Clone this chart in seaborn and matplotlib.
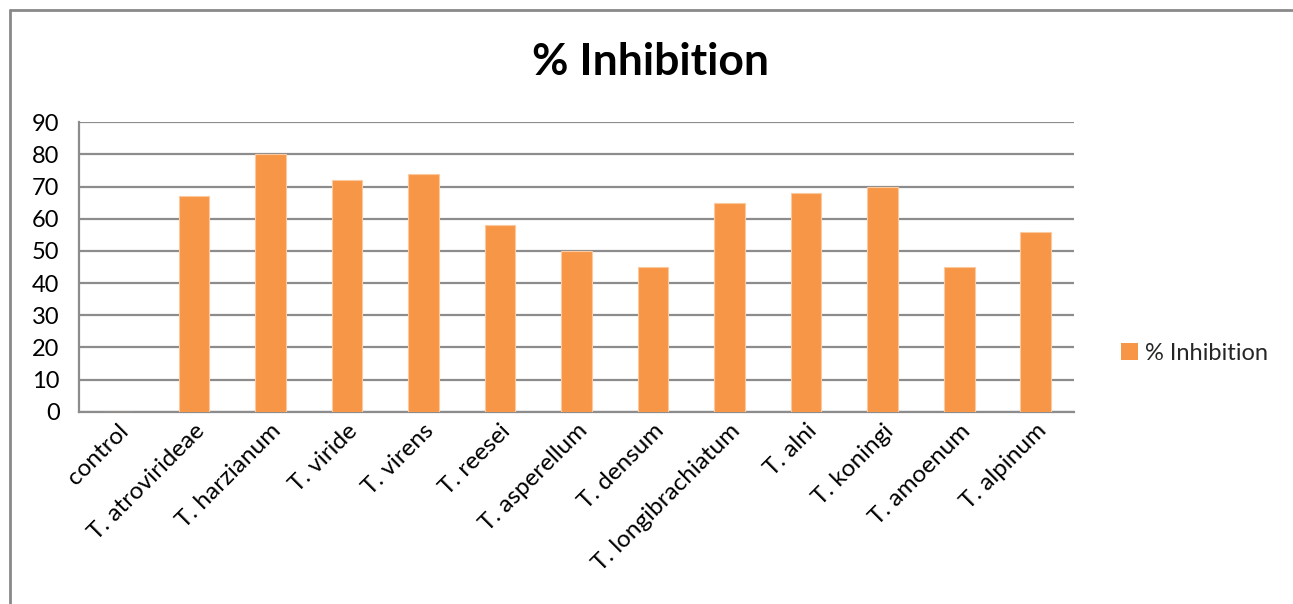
import matplotlib
matplotlib.use("Agg")
import matplotlib.pyplot as plt
import seaborn as sns
import pandas as pd
from matplotlib.lines import Line2D
from matplotlib.patches import Patch

categories = ["control", "T. atrovirideae", "T. harzianum", "T. viride", "T. virens",
              "T. reesei", "T. asperellum", "T. densum", "T. longibrachiatum",
              "T. alni", "T. koningi", "T. amoenum", "T. alpinum"]
inhibition = [0, 67, 80, 72, 74, 58, 50, 45, 65, 68, 70, 45, 56]
series_name = "% Inhibition"
y_ticks = [0, 10, 20, 30, 40, 50, 60, 70, 80, 90]

sns.set_theme(style="white")
plt.rcParams["font.family"] = ["Lato", "DejaVu Sans"]

bar_color = "#F79646"
grid_color = "#8C8C8C"

df = pd.DataFrame({"strain": categories, "value": inhibition})

W, H = 1293, 604
fig = plt.figure(figsize=(W / 100, H / 100), dpi=100)
ax = fig.add_axes([79 / W, 1 - 411.7 / H, (1074 - 79) / W, (411.7 - 122.3) / H])

sns.barplot(data=df, x="strain", y="value", color=bar_color, width=0.4,
            saturation=1, ax=ax, edgecolor="#FBC9A0", linewidth=0.8, zorder=3)

ax.set_ylim(0, 90)
ax.set_yticks(y_ticks)
ax.set_xlim(-0.5, len(categories) - 0.5)
ax.yaxis.grid(True, color=grid_color, linewidth=1.6, zorder=0)
ax.set_axisbelow(True)
for side in ["top", "right"]:
    ax.spines[side].set_visible(False)
for side in ["left", "bottom"]:
    ax.spines[side].set_color(grid_color)
    ax.spines[side].set_linewidth(1.6)
ax.set_xlabel("")
ax.set_ylabel("")
ax.tick_params(axis="y", labelsize=17, pad=14, length=0, colors="black")
ax.tick_params(axis="x", labelsize=17.5, pad=6, length=0, colors="black")
plt.setp(ax.get_xticklabels(), rotation=45, ha="right", rotation_mode="anchor")

fig.text(650 / W, 1 - 62 / H, "% Inhibition", ha="center", va="center",
         fontsize=32, fontweight="bold", color="black")

handles = [Patch(facecolor=bar_color, edgecolor="none", label=series_name)]
fig.legend(handles=handles, loc="center left", bbox_to_anchor=(1112 / W, 1 - 353 / H),
           frameon=False, fontsize=17, handlelength=0.7, handleheight=0.7,
           handletextpad=0.3, borderaxespad=0)

# chart frame (left and top edges)
fig.add_artist(Line2D([9.5 / W, 9.5 / W], [0, 1 - 10 / H], transform=fig.transFigure,
                      color="#898989", linewidth=2))
fig.add_artist(Line2D([9.5 / W, 1292 / W], [1 - 10 / H, 1 - 10 / H], transform=fig.transFigure,
                      color="#898989", linewidth=2))

fig.savefig("out.png", dpi=100)
